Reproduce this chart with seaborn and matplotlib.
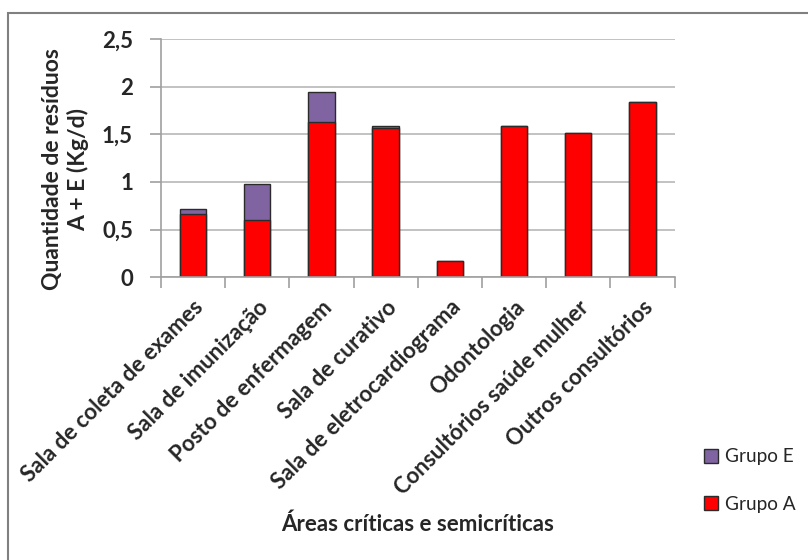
import matplotlib
matplotlib.use("Agg")
import matplotlib.pyplot as plt
import seaborn as sns
import pandas as pd
import numpy as np
from matplotlib.patches import Rectangle
from matplotlib.ticker import FixedLocator, FuncFormatter

categories = ["Sala de coleta de exames", "Sala de imunização", "Posto de enfermagem",
              "Sala de curativo", "Sala de eletrocardiograma", "Odontologia",
              "Consultórios saúde mulher", "Outros consultórios"]
grupo_a = [0.66, 0.60, 1.63, 1.57, 0.17, 1.59, 1.51, 1.84]
grupo_e = [0.06, 0.38, 0.32, 0.015, 0.0, 0.0, 0.0, 0.0]
y_ticks = [0, 0.5, 1, 1.5, 2, 2.5]

sns.set_theme(style="white")
plt.rcParams['font.family'] = ['Lato', 'DejaVu Sans']

total = [a + e for a, e in zip(grupo_a, grupo_e)]
df = pd.DataFrame({"area": categories, "A": grupo_a, "total": total})

fig = plt.figure(figsize=(8.08, 5.6), dpi=100)
ax = fig.add_axes([0.199, 0.505, 0.636, 0.425])

red = "#ff0000"
purple = "#8064a2"
edge = "#2b2b2b"

sns.barplot(data=df, x="area", y="total", color=purple, width=0.41,
            edgecolor=edge, linewidth=1.0, saturation=1, ax=ax, label="Grupo E")
sns.barplot(data=df, x="area", y="A", color=red, width=0.41,
            edgecolor=edge, linewidth=1.0, saturation=1, ax=ax, label="Grupo A")
if ax.get_legend() is not None:
    ax.get_legend().remove()

ax.set_ylim(0, 2.5)
ax.set_xlim(-0.5, len(categories) - 0.5)
ax.yaxis.set_major_locator(FixedLocator(y_ticks))
ax.yaxis.set_major_formatter(FuncFormatter(lambda v, p: (f"{v:g}").replace(".", ",")))
ax.grid(axis="y", color="#b8b8b8", linewidth=1.2)
ax.set_axisbelow(True)

for s in ["top", "right"]:
    ax.spines[s].set_visible(False)
for s in ["left", "bottom"]:
    ax.spines[s].set_color("#a0a0a0")
    ax.spines[s].set_linewidth(1.2)

ax.tick_params(axis="y", which="major", length=8, width=1.2, color="#a0a0a0",
               pad=12, labelsize=16, left=True)
for t in ax.get_yticklabels():
    t.set_fontweight("bold")

ax.set_xticks(range(len(categories)))
ax.set_xticklabels(categories, rotation=45, ha="right", rotation_mode="anchor",
                   fontsize=16, fontweight="bold")
ax.tick_params(axis="x", which="major", length=0, pad=14)
ax.set_xticks(np.arange(-0.5, len(categories), 1.0), minor=True)
ax.tick_params(axis="x", which="minor", length=8, width=1.2, color="#a0a0a0", bottom=True)

ax.set_xlabel("")
ax.set_ylabel("")
fig.text(0.081, 0.698, "Quantidade de resíduos\nA + E (Kg/d)", rotation=90,
         ha="center", va="center", fontsize=16.5, fontweight="bold", linespacing=1.25)
fig.text(0.517, 0.063, "Áreas críticas e semicríticas", ha="center", va="center",
         fontsize=16, fontweight="bold")

handles, labels = ax.get_legend_handles_labels()
leg = fig.legend(handles, labels, loc="center left", bbox_to_anchor=(0.85, 0.142),
                 frameon=False, fontsize=13.7, labelspacing=1.6, handlelength=0.75,
                 handleheight=0.75, handletextpad=0.35)

fig.patches.append(Rectangle((8 / 808, -0.05), 1.2, 1 - 13 / 560 + 0.05,
                             transform=fig.transFigure, fill=False,
                             edgecolor="#808080", linewidth=1.5))

fig.savefig("out.png", dpi=100)
